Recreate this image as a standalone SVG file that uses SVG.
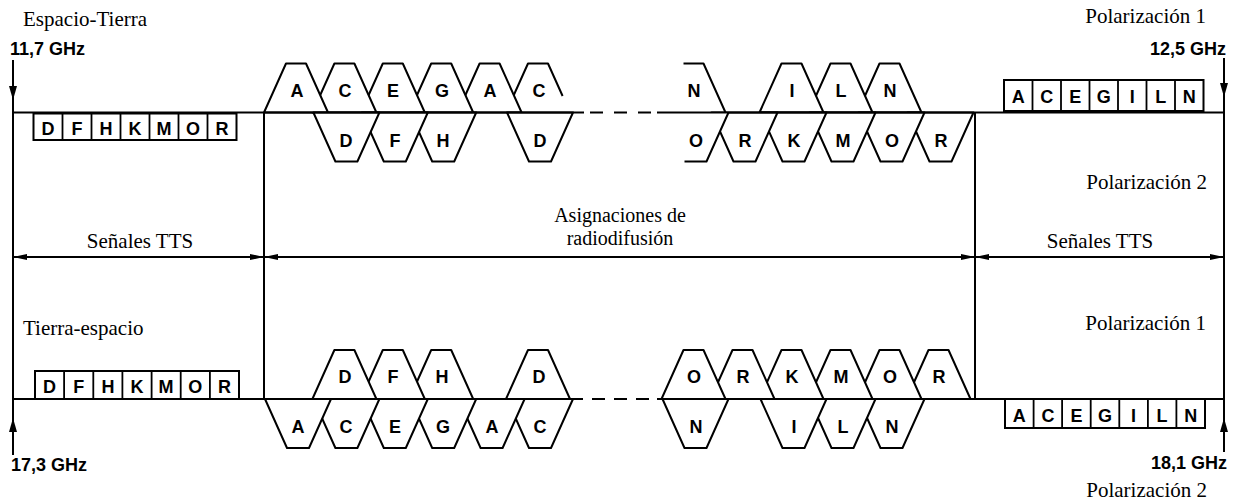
<svg xmlns="http://www.w3.org/2000/svg" width="1242" height="503" viewBox="0 0 1242 503">
<style>
.ln{stroke:#000;stroke-width:2;fill:none}
.sh{stroke:#000;stroke-width:2;fill:#fff;stroke-linejoin:round}
.op{stroke:#000;stroke-width:2;fill:none;stroke-linejoin:round}
.bx{stroke:#000;stroke-width:2;fill:#fff}
.sp{stroke:#000;stroke-width:1.8}
.t{font-family:"Liberation Serif","Times New Roman",serif;font-size:21px;fill:#000}
.t2{font-family:"Liberation Serif","Times New Roman",serif;font-size:20px;fill:#000;text-anchor:middle}
.g{font-family:"Liberation Sans",Arial,sans-serif;font-size:18px;font-weight:bold;fill:#000}
.c{font-family:"Liberation Sans",Arial,sans-serif;font-size:18px;font-weight:bold;fill:#000;text-anchor:middle}
.m{text-anchor:middle}
.e{text-anchor:end}
</style>
<defs>
<marker id="ah" viewBox="0 0 14 6" refX="14" refY="3" markerWidth="14" markerHeight="6" markerUnits="userSpaceOnUse" orient="auto-start-reverse">
<path d="M0,0 L14,3 L0,6 z" fill="#000"/>
</marker>
</defs>

<g id="connectors">
<line class="ln" x1="13" y1="60" x2="13" y2="455"/>
<line class="ln" x1="1224" y1="58" x2="1224" y2="452"/>
<line class="ln" x1="264" y1="112.5" x2="264" y2="399"/>
<line class="ln" x1="975" y1="112.5" x2="975" y2="399"/>
<polygon points="9,86 17,86 13,100" fill="#000"/>
<polygon points="1220,83 1228,83 1224,97" fill="#000"/>
<polygon points="9,432 17,432 13,418" fill="#000"/>
<polygon points="1220,432 1228,432 1224,418" fill="#000"/>
<line class="ln" x1="13" y1="257" x2="264" y2="257" marker-start="url(#ah)" marker-end="url(#ah)"/>
<line class="ln" x1="264" y1="257" x2="975" y2="257" marker-start="url(#ah)" marker-end="url(#ah)"/>
<line class="ln" x1="975" y1="257" x2="1224" y2="257" marker-start="url(#ah)" marker-end="url(#ah)"/>
</g>

<g id="top-upper">
<polygon class="sh" points="857.5,112.5 879.5,63.5 899.5,63.5 921.5,112.5"/>
<text class="c" x="890" y="97">N</text>
<polygon class="sh" points="808.5,112.5 830.5,63.5 850.5,63.5 872.5,112.5"/>
<text class="c" x="841" y="97">L</text>
<polygon class="sh" points="759.5,112.5 781.5,63.5 801.5,63.5 823.5,112.5"/>
<text class="c" x="792" y="97">I</text>
<polyline class="op" points="683.5,63.5 703.5,63.5 725.5,112.5"/>
<text class="c" x="694" y="97">N</text>
<path d="M506,112.5 L528,63.5 L548,63.5 L562.6,96 L562.6,112.5 z" fill="#fff"/>
<polyline class="op" points="506,112.5 528,63.5 548,63.5 562.6,96"/>
<text class="c" x="539" y="97">C</text>
<polygon class="sh" points="457.6,112.5 479.6,63.5 499.6,63.5 521.6,112.5"/>
<text class="c" x="490" y="97">A</text>
<polygon class="sh" points="409.2,112.5 431.2,63.5 451.2,63.5 473.2,112.5"/>
<text class="c" x="442" y="97">G</text>
<polygon class="sh" points="360.8,112.5 382.8,63.5 402.8,63.5 424.8,112.5"/>
<text class="c" x="393" y="97">E</text>
<polygon class="sh" points="312.4,112.5 334.4,63.5 354.4,63.5 376.4,112.5"/>
<text class="c" x="345" y="97">C</text>
<polygon class="sh" points="264,112.5 286,63.5 306,63.5 328,112.5"/>
<text class="c" x="297" y="97">A</text>
</g>

<g id="top-lower">
<polygon class="sh" points="907.5,112.5 929.5,161.5 951.5,161.5 973.5,112.5"/>
<text class="c" x="941" y="147">R</text>
<polygon class="sh" points="858.5,112.5 880.5,161.5 902.5,161.5 924.5,112.5"/>
<text class="c" x="892" y="147">O</text>
<polygon class="sh" points="809.5,112.5 831.5,161.5 853.5,161.5 875.5,112.5"/>
<text class="c" x="843" y="147">M</text>
<polygon class="sh" points="760.5,112.5 782.5,161.5 804.5,161.5 826.5,112.5"/>
<text class="c" x="794" y="147">K</text>
<polygon class="sh" points="711.5,112.5 733.5,161.5 755.5,161.5 777.5,112.5"/>
<text class="c" x="745" y="147">R</text>
<path d="M684.5,112.5 L684.5,161.5 L706.5,161.5 L728.5,112.5 z" fill="#fff"/>
<polyline class="op" points="684.5,161.5 706.5,161.5 728.5,112.5"/>
<text class="c" x="696" y="147">O</text>
<polygon class="sh" points="507,112.5 529,161.5 551,161.5 573,112.5"/>
<text class="c" x="540" y="147">D</text>
<polygon class="sh" points="410.2,112.5 432.2,161.5 454.2,161.5 476.2,112.5"/>
<text class="c" x="443" y="147">H</text>
<polygon class="sh" points="361.8,112.5 383.8,161.5 405.8,161.5 427.8,112.5"/>
<text class="c" x="395" y="147">F</text>
<polygon class="sh" points="313.4,112.5 335.4,161.5 357.4,161.5 379.4,112.5"/>
<text class="c" x="346" y="147">D</text>
</g>

<g id="bottom-upper">
<polygon class="sh" points="906.5,399 928.5,350 948.5,350 970.5,399"/>
<text class="c" x="939" y="382.5">R</text>
<polygon class="sh" points="857.5,399 879.5,350 899.5,350 921.5,399"/>
<text class="c" x="890" y="382.5">O</text>
<polygon class="sh" points="808.5,399 830.5,350 850.5,350 872.5,399"/>
<text class="c" x="841" y="382.5">M</text>
<polygon class="sh" points="759.5,399 781.5,350 801.5,350 823.5,399"/>
<text class="c" x="792" y="382.5">K</text>
<polygon class="sh" points="710.5,399 732.5,350 752.5,350 774.5,399"/>
<text class="c" x="743" y="382.5">R</text>
<polygon class="sh" points="661.5,399 683.5,350 703.5,350 725.5,399"/>
<text class="c" x="694" y="382.5">O</text>
<polygon class="sh" points="506,399 528,350 548,350 570,399"/>
<text class="c" x="539" y="382.5">D</text>
<polygon class="sh" points="409.2,399 431.2,350 451.2,350 473.2,399"/>
<text class="c" x="442" y="382.5">H</text>
<polygon class="sh" points="360.8,399 382.8,350 402.8,350 424.8,399"/>
<text class="c" x="393" y="382.5">F</text>
<polygon class="sh" points="312.4,399 334.4,350 354.4,350 376.4,399"/>
<text class="c" x="345" y="382.5">D</text>
</g>

<g id="bottom-lower">
<polygon class="sh" points="858.5,399 880.5,448 902.5,448 924.5,399"/>
<text class="c" x="892" y="432.5">N</text>
<polygon class="sh" points="809.5,399 831.5,448 853.5,448 875.5,399"/>
<text class="c" x="843" y="432.5">L</text>
<polygon class="sh" points="760.5,399 782.5,448 804.5,448 826.5,399"/>
<text class="c" x="794" y="432.5">I</text>
<polygon class="sh" points="662.5,399 684.5,448 706.5,448 728.5,399"/>
<text class="c" x="696" y="432.5">N</text>
<polygon class="sh" points="507,399 529,448 551,448 573,399"/>
<text class="c" x="540" y="432.5">C</text>
<polygon class="sh" points="458.6,399 480.6,448 502.6,448 524.6,399"/>
<text class="c" x="492" y="432.5">A</text>
<polygon class="sh" points="410.2,399 432.2,448 454.2,448 476.2,399"/>
<text class="c" x="443" y="432.5">G</text>
<polygon class="sh" points="361.8,399 383.8,448 405.8,448 427.8,399"/>
<text class="c" x="395" y="432.5">E</text>
<polygon class="sh" points="313.4,399 335.4,448 357.4,448 379.4,399"/>
<text class="c" x="346" y="432.5">C</text>
<polygon class="sh" points="265,399 287,448 309,448 331,399"/>
<text class="c" x="298" y="432.5">A</text>
</g>

<g id="baselines">
<line class="ln" x1="13" y1="112.5" x2="584" y2="112.5"/>
<path class="ln" d="M590,112.5 h13 M614,112.5 h13 M638,112.5 h13"/>
<line class="ln" x1="657" y1="112.5" x2="1224" y2="112.5"/>
<line class="ln" x1="13" y1="399" x2="583" y2="399"/>
<path class="ln" d="M592,399 h13 M614,399 h13 M636,399 h13"/>
<line class="ln" x1="657" y1="399" x2="1224" y2="399"/>
</g>

<g id="tts-top-left">
<rect class="bx" x="33.5" y="113.5" width="203" height="26.5"/>
<path class="sp" d="M62.5,113.5v26.5M91.5,113.5v26.5M120.5,113.5v26.5M149.5,113.5v26.5M178.5,113.5v26.5M207.5,113.5v26.5"/>
<text class="c" x="48" y="135">D</text><text class="c" x="77" y="135">F</text><text class="c" x="106" y="135">H</text><text class="c" x="135" y="135">K</text><text class="c" x="164" y="135">M</text><text class="c" x="193" y="135">O</text><text class="c" x="222" y="135">R</text>
</g>

<g id="tts-top-right">
<rect class="bx" x="1004" y="80" width="199.5" height="31"/>
<path class="sp" d="M1032.5,80v31M1061,80v31M1089.5,80v31M1118,80v31M1146.5,80v31M1175,80v31"/>
<text class="c" x="1018.2" y="103">A</text><text class="c" x="1046.7" y="103">C</text><text class="c" x="1075.2" y="103">E</text><text class="c" x="1103.7" y="103">G</text><text class="c" x="1132.2" y="103">I</text><text class="c" x="1160.7" y="103">L</text><text class="c" x="1189.2" y="103">N</text>
</g>

<g id="tts-bottom-left">
<rect class="bx" x="35" y="371" width="204" height="28"/>
<path class="sp" d="M64.1,371v28M93.3,371v28M122.4,371v28M151.6,371v28M180.7,371v28M209.9,371v28"/>
<text class="c" x="49.6" y="392.5">D</text><text class="c" x="78.7" y="392.5">F</text><text class="c" x="107.9" y="392.5">H</text><text class="c" x="137" y="392.5">K</text><text class="c" x="166.1" y="392.5">M</text><text class="c" x="195.3" y="392.5">O</text><text class="c" x="224.4" y="392.5">R</text>
</g>

<g id="tts-bottom-right">
<rect class="bx" x="1005" y="399" width="200" height="29"/>
<path class="sp" d="M1033.6,399v29M1062.1,399v29M1090.7,399v29M1119.3,399v29M1147.9,399v29M1176.4,399v29"/>
<text class="c" x="1019.3" y="421.5">A</text><text class="c" x="1047.9" y="421.5">C</text><text class="c" x="1076.4" y="421.5">E</text><text class="c" x="1105" y="421.5">G</text><text class="c" x="1133.6" y="421.5">I</text><text class="c" x="1162.1" y="421.5">L</text><text class="c" x="1190.7" y="421.5">N</text>
</g>

<g id="labels">
<text class="t" x="23" y="26">Espacio-Tierra</text>
<text class="g" x="10" y="55">11,7 GHz</text>
<text class="t e" x="1206" y="23">Polarización 1</text>
<text class="g e" x="1226" y="55">12,5 GHz</text>
<text class="t e" x="1207" y="189">Polarización 2</text>
<text class="t m" x="140" y="248">Señales TTS</text>
<text class="t2" x="620" y="222">Asignaciones de</text>
<text class="t2" x="620" y="245">radiodifusión</text>
<text class="t m" x="1100" y="248">Señales TTS</text>
<text class="t" x="23" y="335">Tierra-espacio</text>
<text class="t e" x="1206" y="330">Polarización 1</text>
<text class="g" x="11" y="471">17,3 GHz</text>
<text class="g e" x="1227" y="469">18,1 GHz</text>
<text class="t e" x="1207" y="497">Polarización 2</text>
</g>
</svg>
